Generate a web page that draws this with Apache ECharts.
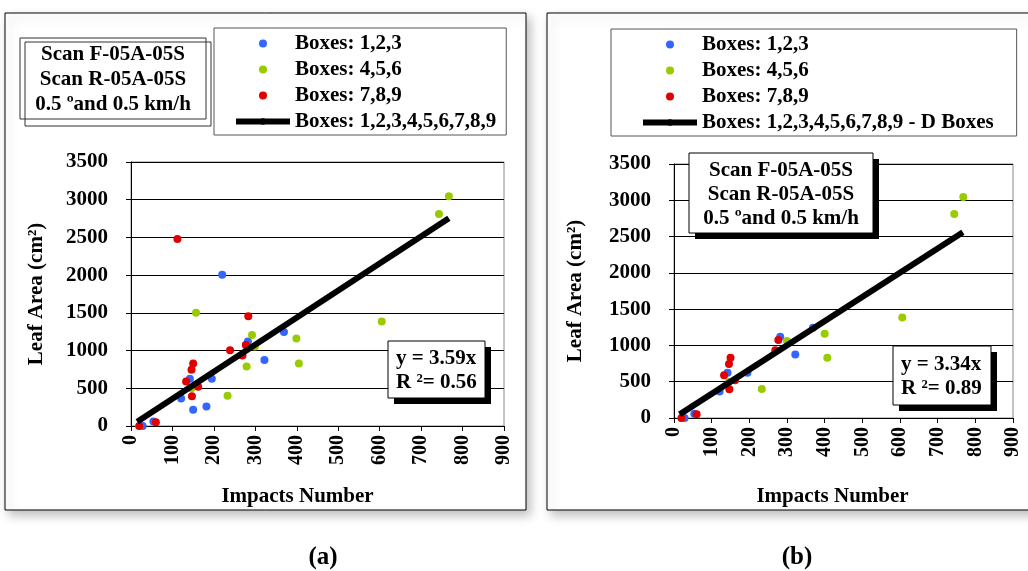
<!DOCTYPE html>
<html>
<head>
<meta charset="utf-8">
<script src="https://cdn.jsdelivr.net/npm/echarts@6/dist/echarts.min.js"></script>
<style>
html,body{margin:0;padding:0;background:#fff;}
#c{width:1028px;height:571px;}
</style>
</head>
<body>
<div id="c"></div>
<script>
// ---- data ----
const seriesNames = ['Boxes: 1,2,3', 'Boxes: 4,5,6', 'Boxes: 7,8,9'];
const lineNameA = 'Boxes: 1,2,3,4,5,6,7,8,9';
const lineNameB = 'Boxes: 1,2,3,4,5,6,7,8,9 - D Boxes';
const xTickLabels = ['0','100','200','300','400','500','600','700','800','900'];
const yTickLabels = ['0','500','1000','1500','2000','2500','3000','3500'];

// chart (a)
const aBlue  = [[28,0],[54,60],[121,365],[142,625],[150,215],[182,260],[195,625],[220,2005],[282,1120],[322,875],[369,1245]];
const aGreen = [[20,0],[146,500],[157,1500],[233,400],[279,790],[292,1205],[299,1055],[399,1160],[405,830],[605,1385],[743,2810],[767,3045]];
const aRed   = [[20,0],[60,50],[112,2480],[133,590],[146,745],[147,395],[150,830],[162,520],[239,1005],[269,935],[277,1075],[283,1455]];
const aTrend = [[15,55],[767,2755]];

// chart (b)
const bBlue  = [[28,0],[54,60],[121,365],[142,625],[195,625],[282,1120],[322,875],[369,1245]];
const bGreen = [[20,0],[146,500],[233,400],[300,1060],[400,1160],[407,830],[606,1385],[744,2810],[768,3045]];
const bRed   = [[20,0],[60,50],[133,590],[146,745],[147,395],[150,830],[162,520],[269,935],[277,1075]];
const bTrend = [[15,50],[767,2560]];

const colors = ['#3366FF', '#99CC00', '#E00000'];
const FONT = '"Liberation Serif", "Times New Roman", serif';

function axisX(gridIndex, nameGap, namePad) {
  return {
    type: 'value', gridIndex, min: 0, max: 900, interval: 100,
    name: 'Impacts Number', nameLocation: 'middle', nameGap,
    nameTextStyle: {fontFamily: FONT, fontWeight: 'bold', fontSize: 21, color: '#000', padding: namePad},
    axisLine: {show: true, onZero: false, lineStyle: {color: '#000', width: 1}},
    axisTick: {show: true, inside: false, length: 5, lineStyle: {color: '#000'}},
    axisLabel: {rotate: 90, margin: 9, fontFamily: FONT, fontWeight: 'bold', fontSize: 20, color: '#000',
      formatter: v => xTickLabels[Math.round(v / 100)]},
    splitLine: {show: false}
  };
}
function axisY(gridIndex, nameGap) {
  return {
    type: 'value', gridIndex, min: 0, max: 3500, interval: 500,
    name: 'Leaf Area (cm²)', nameLocation: 'middle', nameGap,
    nameTextStyle: {fontFamily: FONT, fontWeight: 'bold', fontSize: 21, color: '#000'},
    axisLine: {show: true, onZero: false, lineStyle: {color: '#000', width: 1}},
    axisTick: {show: true, inside: false, length: 5, lineStyle: {color: '#000'}},
    axisLabel: {margin: 23, fontFamily: FONT, fontWeight: 'bold', fontSize: 21, color: '#000',
      formatter: v => yTickLabels[Math.round(v / 500)]},
    splitLine: {show: true, lineStyle: {color: '#000', width: 1}}
  };
}
function scatter(name, data, color, idx) {
  return {type: 'scatter', name, data, xAxisIndex: idx, yAxisIndex: idx,
    symbol: 'circle', symbolSize: 8, itemStyle: {color, opacity: 1}, z: 3, silent: true};
}
function trend(name, data, idx) {
  return {type: 'line', name, data, xAxisIndex: idx, yAxisIndex: idx,
    symbol: 'none', lineStyle: {color: '#000', width: 6}, itemStyle: {color: '#000'}, z: 4, silent: true};
}
function legend(left, top, padding, lineName) {
  return {
    left, top, orient: 'vertical', itemWidth: 54, itemHeight: 8, itemGap: 5, padding,
    borderColor: '#555', borderWidth: 1, selectedMode: false,
    lineStyle: {width: 'inherit'},
    textStyle: {fontFamily: FONT, fontWeight: 'bold', fontSize: 21, lineHeight: 20, color: '#000'},
    data: [
      {name: seriesNames[0], icon: 'circle'},
      {name: seriesNames[1], icon: 'circle'},
      {name: seriesNames[2], icon: 'circle'},
      {name: lineName}
    ]
  };
}
function textBox(x, y, w, h, shadow, textX, textY, align, text, lh) {
  const els = [];
  if (shadow) els.push({type: 'rect', shape: {x: x + 6, y: y + 6, width: w, height: h}, style: {fill: '#000'}, z: 100});
  els.push({type: 'rect', shape: {x, y, width: w, height: h}, style: {fill: '#fff', stroke: '#000', lineWidth: 1}, z: 101});
  els.push({type: 'text', x: textX, y: textY, z: 102,
    style: {text, fontFamily: FONT, fontWeight: 'bold', fontSize: 21, lineHeight: lh, fill: '#000', align, verticalAlign: 'middle'}});
  return els;
}

const option = {
  backgroundColor: '#fff',
  animation: false,
  grid: [
    {left: 131, top: 162, width: 373, height: 264, show: true, borderColor: '#888', borderWidth: 1, backgroundColor: 'transparent'},
    {left: 674, top: 164, width: 339, height: 254, show: true, borderColor: '#888', borderWidth: 1, backgroundColor: 'transparent'}
  ],
  xAxis: [axisX(0, 60, [0, 40, 0, 0]), axisX(1, 68, [0, 22, 0, 0])],
  yAxis: [axisY(0, 84), axisY(1, 88)],
  legend: [legend(214, 28, [5, 10, 3, 19], lineNameA), legend(611, 29, [5, 23, 3, 29], lineNameB)],
  series: [
    scatter(seriesNames[0], aBlue, colors[0], 0),
    scatter(seriesNames[1], aGreen, colors[1], 0),
    scatter(seriesNames[2], aRed, colors[2], 0),
    trend(lineNameA, aTrend, 0),
    scatter(seriesNames[0], bBlue, colors[0], 1),
    scatter(seriesNames[1], bGreen, colors[1], 1),
    scatter(seriesNames[2], bRed, colors[2], 1),
    trend(lineNameB, bTrend, 1)
  ],
  graphic: [
    {type: 'rect', shape: {x: 5, y: 13, width: 521, height: 497}, z: -10,
      style: {fill: '#fff', stroke: '#000', lineWidth: 1, shadowBlur: 10, shadowColor: 'rgba(0,0,0,0.25)', shadowOffsetX: 4, shadowOffsetY: 5}},
    {type: 'rect', shape: {x: 547, y: 13, width: 520, height: 497}, z: -10,
      style: {fill: '#fff', stroke: '#000', lineWidth: 1, shadowBlur: 10, shadowColor: 'rgba(0,0,0,0.25)', shadowOffsetX: 4, shadowOffsetY: 5}},
    // left annotation (double frame)
    {type: 'rect', shape: {x: 20, y: 38, width: 186, height: 81}, style: {fill: 'none', stroke: '#333', lineWidth: 1}, z: 101},
    {type: 'rect', shape: {x: 25, y: 42, width: 186, height: 84}, style: {fill: 'none', stroke: '#333', lineWidth: 1}, z: 101},
    {type: 'text', x: 113, y: 80, z: 102,
      style: {text: 'Scan F-05A-05S\nScan R-05A-05S\n0.5 ºand 0.5 km/h', fontFamily: FONT, fontWeight: 'bold', fontSize: 21, lineHeight: 25, fill: '#000', align: 'center', verticalAlign: 'middle'}},
    // right annotation
    ...textBox(689, 153, 184, 80, true, 781, 195, 'center', 'Scan F-05A-05S\nScan R-05A-05S\n0.5 ºand 0.5 km/h', 24),
    // equations
    ...textBox(388, 341, 97, 57, true, 396, 371, 'left', 'y = 3.59x\nR ²= 0.56', 24),
    ...textBox(893, 346, 98, 59, true, 901, 377, 'left', 'y = 3.34x\nR ²= 0.89', 24),
    // panel captions
    {type: 'text', x: 323, y: 558, style: {text: '(a)', fontFamily: FONT, fontWeight: 'bold', fontSize: 25, fill: '#000', align: 'center', verticalAlign: 'middle'}},
    {type: 'text', x: 797, y: 558, style: {text: '(b)', fontFamily: FONT, fontWeight: 'bold', fontSize: 25, fill: '#000', align: 'center', verticalAlign: 'middle'}}
  ]
};
const chart = echarts.init(document.getElementById('c'), null, {renderer: 'canvas'});
chart.setOption(option);
</script>
</body>
</html>
